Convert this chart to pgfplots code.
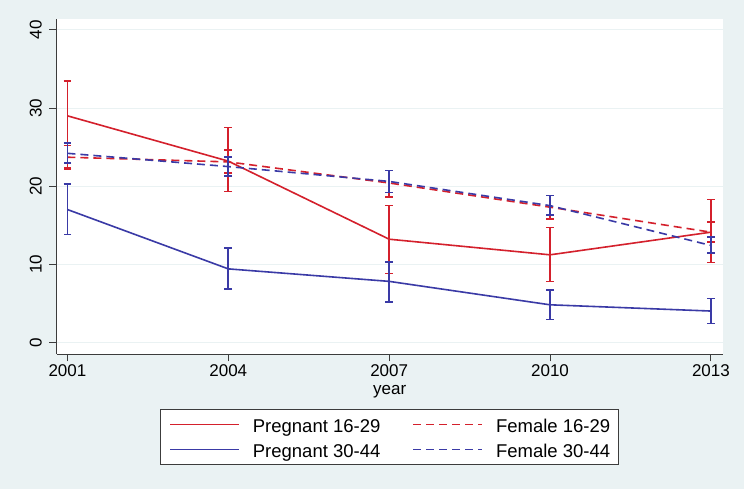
\documentclass[border=0pt]{standalone}
\usepackage{fontspec}
\setmainfont{Liberation Sans}
\usepackage{pgfplots}
\pgfplotsset{compat=1.18}
\definecolor{bgc}{RGB}{234,242,243}
\definecolor{gridc}{RGB}{234,242,243}
\definecolor{myred}{RGB}{212,32,44}
\definecolor{myblue}{RGB}{58,58,166}
\definecolor{axc}{RGB}{60,60,60}
\begin{document}
\begin{tikzpicture}
\fill[bgc] (0,0) rectangle (744pt,489pt);
\useasboundingbox (0,0) rectangle (744pt,489pt);
\begin{axis}[
  at={(56.7pt,135pt)}, anchor=south west,
  scale only axis, width=666pt, height=335pt,
  xmin=2000.8, xmax=2013.22, ymin=-1.5, ymax=41.4,
  axis lines*=left,
  axis line style={-, color=axc, line width=0.9pt},
  axis background/.style={fill=white},
  xtick={2001,2004,2007,2010,2013},
  ytick={0,10,20,30,40},
  tick align=outside,
  major tick length=7.5pt,
  tick style={color=axc, line width=0.9pt},
  ymajorgrids,
  major grid style={color=gridc, line width=1pt},
  /pgf/number format/1000 sep={},
  /pgf/number format/assume math mode=true,
  tick label style={font=\fontsize{17}{20}\selectfont, text=black},
  yticklabel style={rotate=90, anchor=south, yshift=4pt},
  xlabel={year},
  xlabel style={font=\fontsize{17}{20}\selectfont, yshift=-1pt},
  legend columns=2,
  legend cell align=left,
  legend style={at={(0.5,0)}, anchor=north, yshift=-55pt,
    draw=axc, line width=0.9pt, fill=white,
    font=\fontsize{18.5}{21}\selectfont,
    inner xsep=8.7pt, inner ysep=4pt,
    nodes={inner sep=0pt, text height=18.6pt, text depth=3.4pt},
    /tikz/every odd column/.append style={column sep=13pt},
    /tikz/every even column/.append style={column sep=32pt},
    row sep=3pt},
  legend image code/.code={\draw[#1, line width=1.7pt] (0pt,0pt) -- (69pt,0pt);},
  error bars/y dir=both,
  error bars/y explicit,
  error bars/error mark options={rotate=90, mark size=3.8pt, line width=1.7pt},
  error bars/error bar style={line width=1.7pt, solid},
]
\addplot[myred, solid, line width=1.6pt] coordinates {
  (2001,29.0) += (0,4.5) -= (0,6.8)
  (2004,23.2) += (0,4.3) -= (0,3.9)
  (2007,13.2) += (0,4.3) -= (0,4.4)
  (2010,11.2) += (0,3.5) -= (0,3.4)
  (2013,14.1) += (0,4.2) -= (0,3.9)
};
\addlegendentry{Pregnant 16-29}
\addplot[myred, dash pattern=on 8pt off 5pt, line width=1.6pt] coordinates {
  (2001,23.7) += (0,1.5) -= (0,1.4)
  (2004,23.1) += (0,1.5) -= (0,1.4)
  (2007,20.4) += (0,1.6) -= (0,1.8)
  (2010,17.3) += (0,1.5) -= (0,1.5)
  (2013,14.1) += (0,1.3) -= (0,1.3)
};
\addlegendentry{Female 16-29}
\addplot[myblue, solid, line width=1.6pt] coordinates {
  (2001,17.0) += (0,3.3) -= (0,3.2)
  (2004,9.4) += (0,2.7) -= (0,2.6)
  (2007,7.8) += (0,2.5) -= (0,2.6)
  (2010,4.8) += (0,1.9) -= (0,1.9)
  (2013,4.0) += (0,1.6) -= (0,1.6)
};
\addlegendentry{Pregnant 30-44}
\addplot[myblue, dash pattern=on 8pt off 5pt, line width=1.6pt] coordinates {
  (2001,24.2) += (0,1.3) -= (0,1.2)
  (2004,22.5) += (0,1.2) -= (0,1.2)
  (2007,20.6) += (0,1.4) -= (0,1.4)
  (2010,17.5) += (0,1.3) -= (0,1.2)
  (2013,12.4) += (0,1.1) -= (0,1.0)
};
\addlegendentry{Female 30-44}
\end{axis}
\end{tikzpicture}
\end{document}
